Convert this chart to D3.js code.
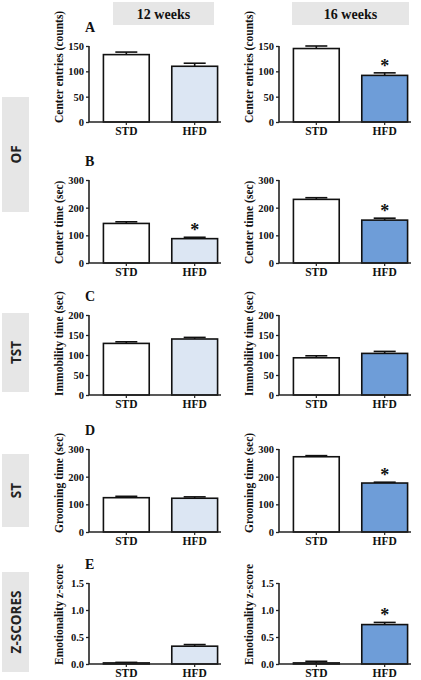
<!DOCTYPE html>
<html>
<head>
<meta charset="utf-8">
<script src="https://cdn.jsdelivr.net/npm/d3@7"></script>
<style>
  html, body { margin: 0; padding: 0; background: #fff; }
  svg { display: block; }
</style>
</head>
<body>
<svg id="chart" width="421" height="680"></svg>
<script>
// ---------------- DATA ----------------
const groups = ["STD", "HFD"];
const weekLabels = ["12 weeks", "16 weeks"];
const rowLetters = ["A", "B", "C", "D", "E"];
const rowTests = ["OF", "TST", "ST", "Z-SCORES"];
const yLabels = ["Center entries (counts)", "Center time (sec)", "Immobility time (sec)", "Grooming time (sec)", "Emotionality z-score"];
const yMaxima = [150, 300, 200, 300, 1.5];
const yTicksA = [0, 50, 100, 150];
const yTicksB = [0, 100, 200, 300];
const yTicksC = [0, 50, 100, 150, 200];
const yTicksD = [0, 100, 200, 300];
const yTicksE = [0.0, 0.5, 1.0, 1.5];

// means and SEM (STD, HFD)
const entries12 = [133, 110], entries12Err = [5, 6];
const entries16 = [145, 92], entries16Err = [5, 5];
const centerTime12 = [143, 88], centerTime12Err = [6, 5];
const centerTime16 = [230, 155], centerTime16Err = [6, 7];
const immobility12 = [129, 140], immobility12Err = [4, 4];
const immobility16 = [93, 104], immobility16Err = [5, 5];
const grooming12 = [124, 122], grooming12Err = [5, 5];
const grooming16 = [272, 177], grooming16Err = [4, 3];
const zscore12 = [0.02, 0.33], zscore12Err = [0.01, 0.03];
const zscore16 = [0.02, 0.73], zscore16Err = [0.03, 0.04];
// significance stars (STD, HFD)
const sigA12 = [false, false], sigA16 = [false, true];
const sigB12 = [false, true], sigB16 = [false, true];
const sigC12 = [false, false], sigC16 = [false, false];
const sigD12 = [false, false], sigD16 = [false, true];
const sigE12 = [false, false], sigE16 = [false, true];

// ---------------- LAYOUT ----------------
const svg = d3.select("#chart");
const serif = "'Liberation Serif', 'Times New Roman', serif";
const sans = "'Open Sans', 'Noto Sans', sans-serif";
const colStd = "#ffffff";
const colHfd = ["#dce6f3", "#6e9dd8"];

const cols = [
  { axisX: 89, rangeX: [100, 221], end: 221 },
  { axisX: 279, rangeX: [290, 411], end: 411 }
];
const rows = [
  { top: 46, bottom: 122, ticks: yTicksA, fmt: d3.format("d"),
    data: [[entries12, entries12Err, sigA12], [entries16, entries16Err, sigA16]] },
  { top: 180, bottom: 263, ticks: yTicksB, fmt: d3.format("d"),
    data: [[centerTime12, centerTime12Err, sigB12], [centerTime16, centerTime16Err, sigB16]] },
  { top: 315, bottom: 395, ticks: yTicksC, fmt: d3.format("d"),
    data: [[immobility12, immobility12Err, sigC12], [immobility16, immobility16Err, sigC16]] },
  { top: 449, bottom: 532, ticks: yTicksD, fmt: d3.format("d"),
    data: [[grooming12, grooming12Err, sigD12], [grooming16, grooming16Err, sigD16]] },
  { top: 583, bottom: 664, ticks: yTicksE, fmt: d3.format(".1f"),
    data: [[zscore12, zscore12Err, sigE12], [zscore16, zscore16Err, sigE16]] }
];

// week headers
const headerBoxes = [[113, 214], [292, 409]];
weekLabels.forEach((w, i) => {
  const [x0, x1] = headerBoxes[i];
  svg.append("rect").attr("x", x0).attr("y", 2).attr("width", x1 - x0).attr("height", 23).attr("fill", "#e6e6e6");
  svg.append("text").attr("x", (x0 + x1) / 2).attr("y", 18.5).attr("text-anchor", "middle")
    .attr("font-family", serif).attr("font-weight", "bold").attr("font-size", 14).attr("fill", "#111").text(w);
});

// side test boxes
const sideBoxes = [[97, 212], [313, 392], [454, 527], [572, 672]];
rowTests.forEach((t, i) => {
  const [y0, y1] = sideBoxes[i];
  svg.append("rect").attr("x", 2).attr("y", y0).attr("width", 27).attr("height", y1 - y0).attr("fill", "#e6e6e6");
  svg.append("text").attr("transform", `translate(20.5,${(y0 + y1) / 2}) rotate(-90)`)
    .attr("text-anchor", "middle").attr("font-family", sans).attr("font-weight", 700)
    .attr("font-size", 13.5).attr("fill", "#222").text(t);
});

rows.forEach((row, ri) => {
  cols.forEach((col, ci) => {
    const [vals, errs, sig] = row.data[ci];
    const y = d3.scaleLinear().domain([0, yMaxima[ri]]).range([row.bottom, row.top]);
    const x = d3.scaleBand().domain(groups).range(col.rangeX).paddingInner(0.33).paddingOuter(0.05);
    const g = svg.append("g");

    // bars
    g.selectAll("rect.bar").data(groups).enter().append("rect")
      .attr("x", d => x(d)).attr("width", x.bandwidth())
      .attr("y", (d, i) => y(vals[i])).attr("height", (d, i) => row.bottom - y(vals[i]))
      .attr("fill", (d, i) => i === 0 ? colStd : colHfd[ci])
      .attr("stroke", "#111").attr("stroke-width", 1.6);

    // error bars (upper only)
    groups.forEach((d, i) => {
      const cx = x(d) + x.bandwidth() / 2;
      const yt = y(vals[i] + errs[i]);
      g.append("line").attr("x1", cx).attr("x2", cx).attr("y1", y(vals[i])).attr("y2", yt)
        .attr("stroke", "#111").attr("stroke-width", 1.6);
      g.append("line").attr("x1", cx - 11).attr("x2", cx + 11).attr("y1", yt).attr("y2", yt)
        .attr("stroke", "#111").attr("stroke-width", 1.6);
      if (sig[i]) {
        g.append("text").attr("x", cx).attr("y", yt - 1).attr("text-anchor", "middle")
          .attr("font-family", serif).attr("font-weight", "bold").attr("font-size", 18)
          .attr("fill", "#111").text("*");
      }
    });

    // y axis
    const yAxis = d3.axisLeft(y).tickValues(row.ticks).tickFormat(row.fmt).tickSize(3).tickPadding(2);
    const ya = g.append("g").attr("transform", `translate(${col.axisX},0)`).call(yAxis);
    ya.select(".domain").attr("stroke", "#222").attr("stroke-width", 1.6).attr("d", `M0,${row.top}V${row.bottom}`);
    ya.selectAll(".tick line").attr("stroke", "#222").attr("stroke-width", 1.3);
    ya.selectAll(".tick text").attr("font-family", serif).attr("font-weight", "bold")
      .attr("font-size", 10.5).attr("fill", "#111");

    // x axis
    const xAxis = d3.axisBottom(x).tickSize(3).tickPadding(3);
    const xa = g.append("g").attr("transform", `translate(0,${row.bottom})`).call(xAxis);
    xa.select(".domain").attr("stroke", "#222").attr("stroke-width", 1.6).attr("d", `M${col.axisX},0H${col.end}`);
    xa.selectAll(".tick line").attr("stroke", "#222").attr("stroke-width", 1.2);
    xa.selectAll(".tick text").attr("font-family", serif).attr("font-weight", "bold")
      .attr("font-size", 11.5).attr("fill", "#111").attr("dy", "0.62em");

    // y label
    g.append("text").attr("transform", `translate(${col.axisX - 26},${row.bottom + 1}) rotate(-90)`)
      .attr("text-anchor", "start").attr("font-family", serif).attr("font-weight", "bold")
      .attr("font-size", 11.5).attr("fill", "#111").text(yLabels[ri]);

    // panel letter
    if (ci === 0) {
      g.append("text").attr("x", 85).attr("y", row.top - 14).attr("font-family", serif)
        .attr("font-weight", "bold").attr("font-size", 14).attr("fill", "#111").text(rowLetters[ri]);
    }
  });
});
</script>
</body>
</html>
